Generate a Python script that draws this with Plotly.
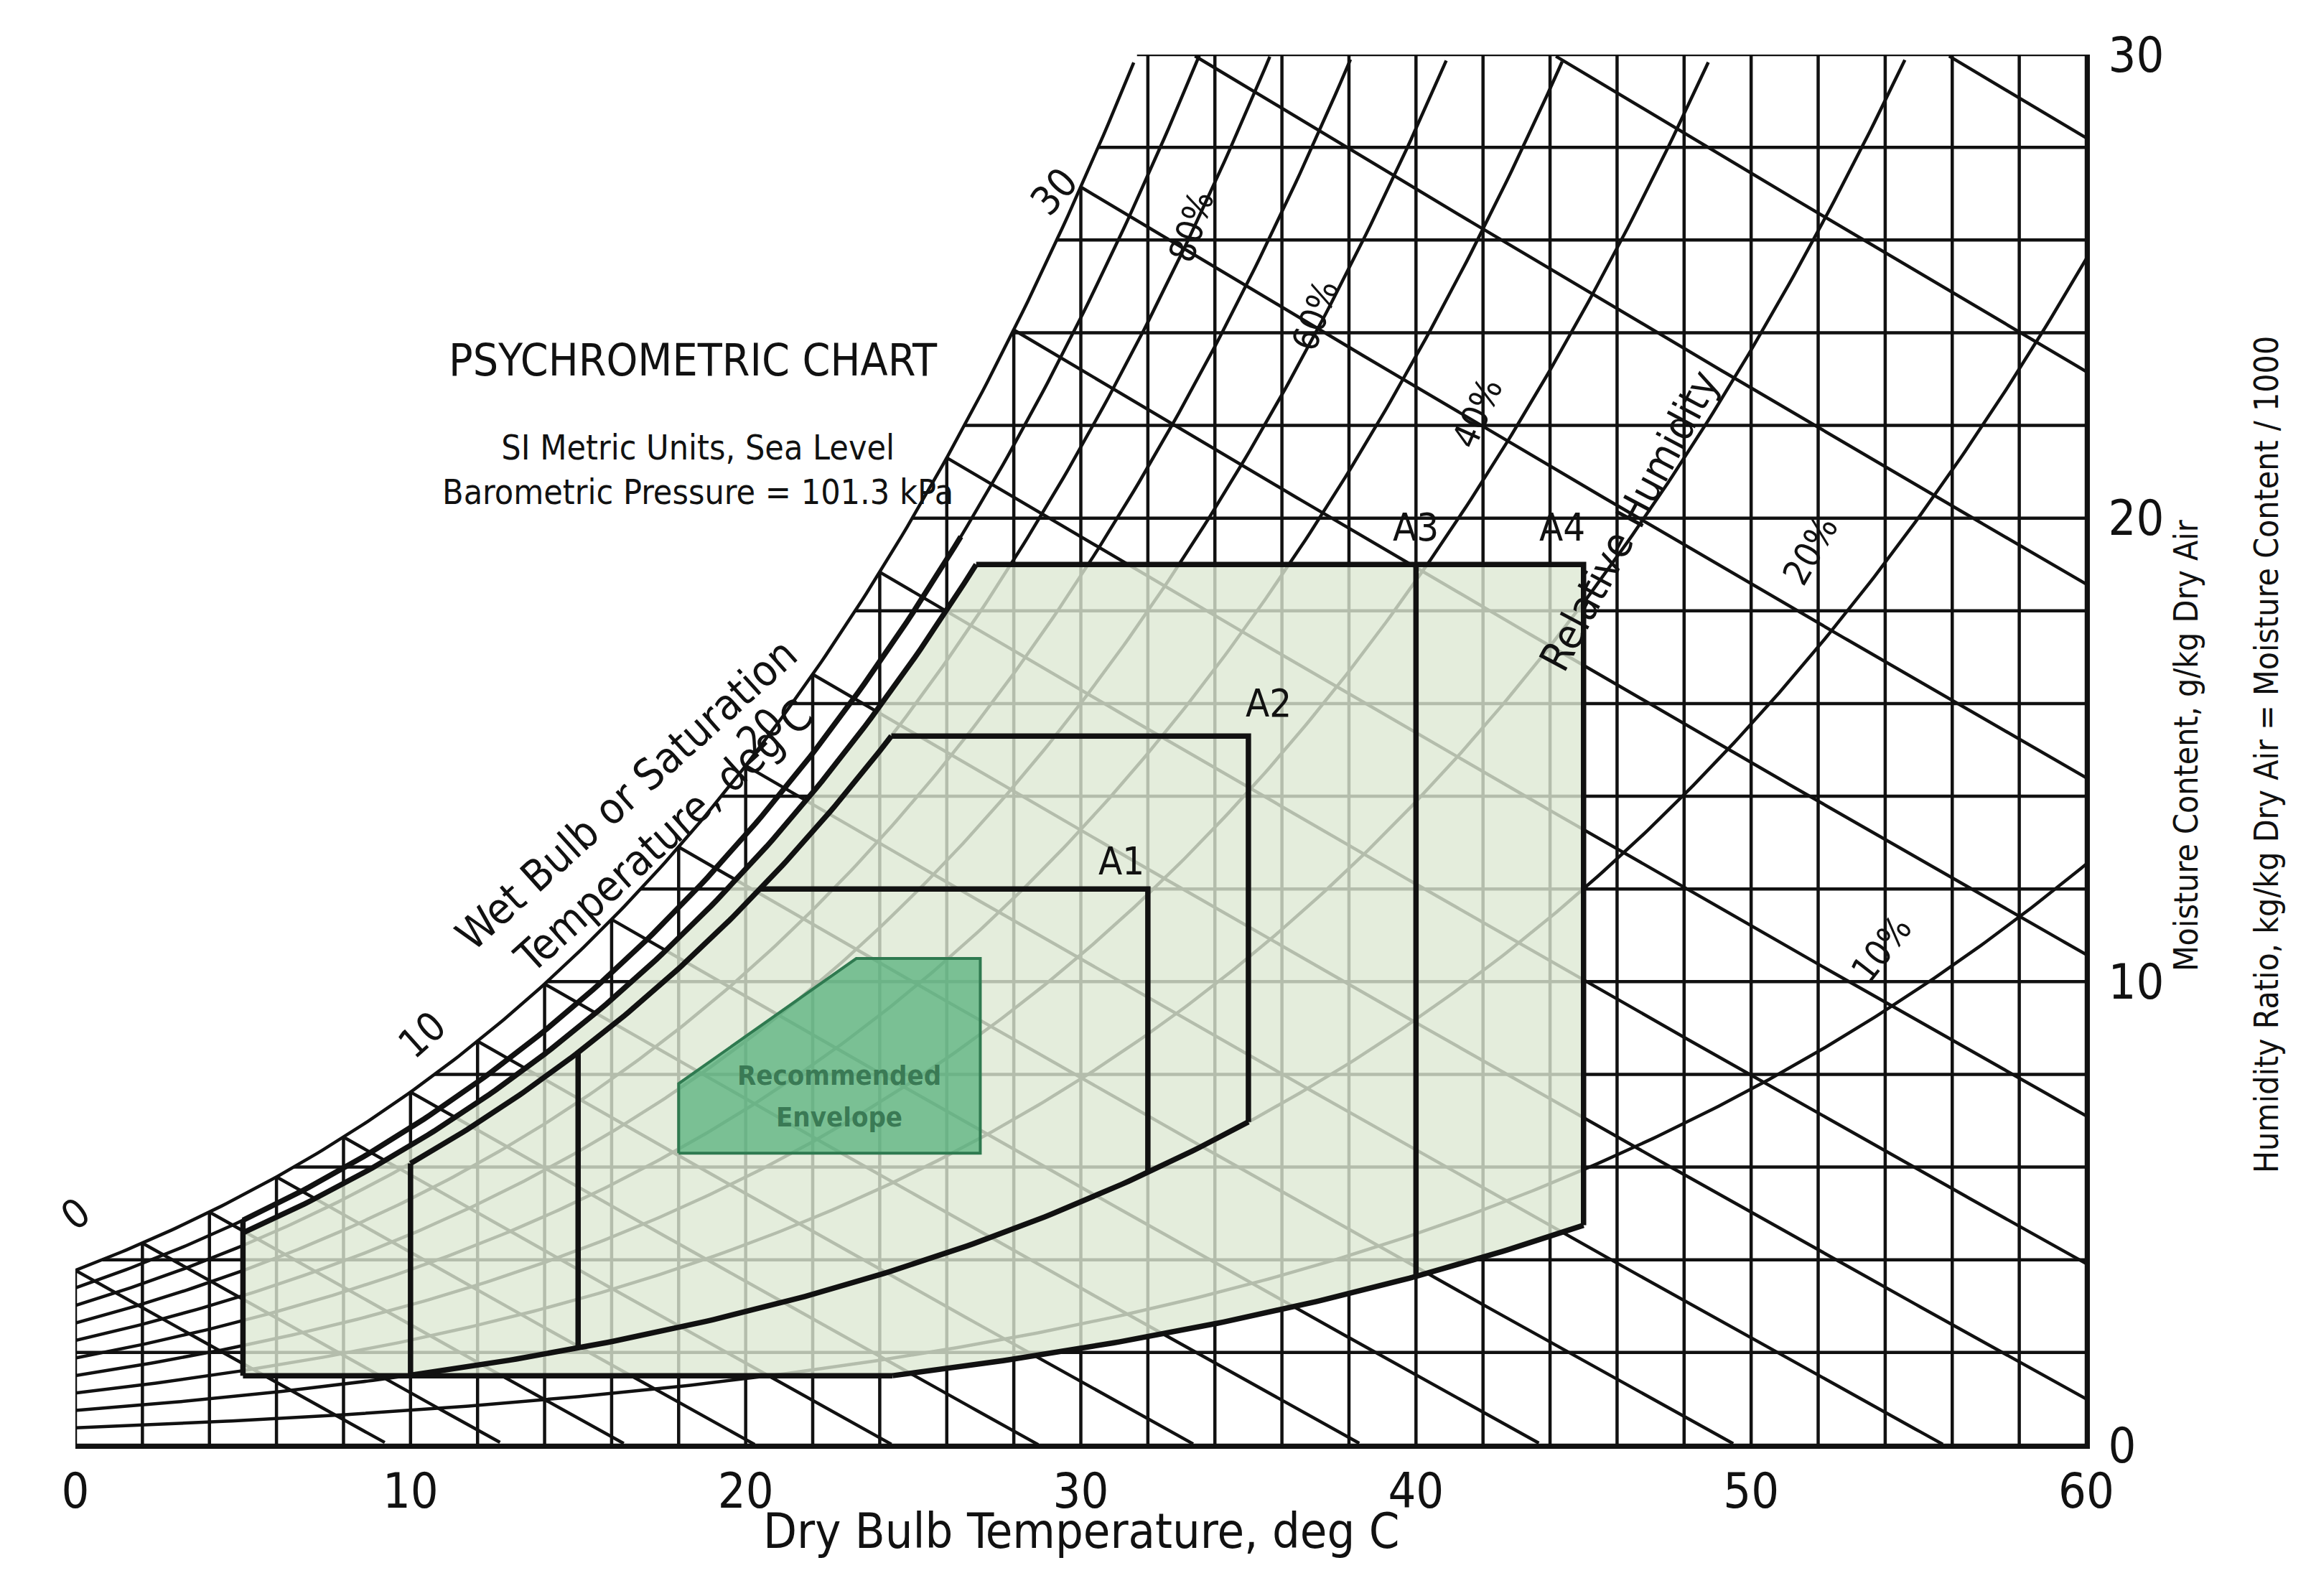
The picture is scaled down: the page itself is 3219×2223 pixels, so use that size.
import numpy as np
import plotly.graph_objects as go

# ---- chart data ----
P_KPA = 101.325
dry_bulb_grid = list(range(0, 61, 2))          # vertical grid, deg C
moisture_grid = list(range(0, 31, 2))          # horizontal grid, g/kg
rh_levels = [10, 20, 30, 40, 50, 60, 70, 80, 90]  # %
wet_bulb_levels = list(range(0, 50, 2))        # deg C
x_ticks = [0, 10, 20, 30, 40, 50, 60]
y_ticks = [0, 10, 20, 30]

# envelope definitions (ASHRAE classes)
A34_rh_high, A34_rh_low, A34_w_min = 85, 8, 1.5
A4_rh_high = 90
A3_t_max, A4_t_max, A34_t_min, A34_w_max = 40, 45, 5, 19.0
A12_rh_high, A12_rh_low = 80, 20
A1_t_min, A1_t_max, A1_w_max = 15, 32, 12.0
A2_t_min, A2_t_max, A2_w_max = 10, 35, 15.3
rec_T = [18, 18, 23.3, 27, 27, 18]
rec_W = [6.3, 7.8, 10.5, 10.5, 6.3, 6.3]

T_MAX, W_MAX = 60.0, 30.0

def psat(t):
    return 0.61094 * np.exp(17.625 * t / (t + 243.04))

def w_rh(t, rh):
    p = rh / 100.0 * psat(t)
    return 622.0 * p / (P_KPA - p)

def t_for_w(w, rh, lo=-10, hi=80):
    for _ in range(60):
        m = (lo + hi) / 2
        if w_rh(m, rh) < w: lo = m
        else: hi = m
    return (lo + hi) / 2

def curve(rh, t0, t1, n=120):
    t = np.linspace(t0, t1, n)
    return list(t), list(w_rh(t, rh))

BLACK = "#111111"
fig = go.Figure()

def add_lines(xs, ys, width=4.5, color=BLACK):
    fig.add_trace(go.Scatter(x=xs, y=ys, mode="lines", line=dict(color=color, width=width),
                             hoverinfo="skip", showlegend=False, connectgaps=False))

# grid
gx, gy = [], []
for t in dry_bulb_grid:
    gx += [t, t, None]; gy += [0, min(w_rh(t, 100), W_MAX), None]
for w in moisture_grid:
    gx += [t_for_w(w, 100) if w > w_rh(0, 100) else 0, T_MAX, None]; gy += [w, w, None]
add_lines(gx, gy)

# saturation + RH curves
rx, ry = [], []
for rh in rh_levels + [100]:
    t = np.linspace(0, T_MAX, 400)
    w = w_rh(t, rh)
    m = w <= W_MAX
    rx += list(t[m]) + [None]; ry += list(w[m]) + [None]
add_lines(rx, ry)

# wet bulb lines
wx, wy = [], []
for twb in wet_bulb_levels:
    ws = w_rh(twb, 100) / 1000
    t = np.linspace(twb, T_MAX, 300)
    w = ((2501 - 2.326 * twb) * ws - 1.006 * (t - twb)) / (2501 + 1.86 * t - 4.186 * twb) * 1000
    m = (w >= 0) & (w <= W_MAX)
    if m.sum() > 1:
        wx += list(t[m]) + [None]; wy += list(w[m]) + [None]
add_lines(wx, wy)

# A3/A4 light fill
t_hi = t_for_w(A34_w_max, A34_rh_high)
t_lo = t_for_w(A34_w_min, A34_rh_low)
cu_x, cu_y = curve(A34_rh_high, A34_t_min, t_hi)
cl_x, cl_y = curve(A34_rh_low, t_lo, A4_t_max)
px = [A34_t_min] + cu_x + [A4_t_max, A4_t_max] + cl_x[::-1] + [A34_t_min]
py = [A34_w_min] + cu_y + [A34_w_max, w_rh(A4_t_max, A34_rh_low)] + cl_y[::-1] + [A34_w_min]
fig.add_trace(go.Scatter(x=px, y=py, fill="toself", fillcolor="rgba(221,232,211,0.8)",
                         line=dict(width=0), mode="lines", hoverinfo="skip", showlegend=False))

TH = 7.5
# A3/A4 boundaries
add_lines(cu_x, cu_y, TH)
x90, y90 = curve(A4_rh_high, A34_t_min, t_for_w(19.6, A4_rh_high))
add_lines(x90, y90, TH)
add_lines([A34_t_min, A34_t_min], [A34_w_min, w_rh(A34_t_min, A4_rh_high)], TH)
add_lines([A34_t_min, t_lo], [A34_w_min, A34_w_min], TH)
add_lines(cl_x, cl_y, TH)
add_lines([t_hi, A4_t_max, A4_t_max], [A34_w_max, A34_w_max, w_rh(A4_t_max, A34_rh_low)], TH)
add_lines([A3_t_max, A3_t_max], [A34_w_max, w_rh(A3_t_max, A34_rh_low)], TH)

# A1/A2 boundaries
x80, y80 = curve(A12_rh_high, A2_t_min, t_for_w(A2_w_max, A12_rh_high))
add_lines(x80, y80, TH)
x20, y20 = curve(A12_rh_low, A2_t_min, A2_t_max)
add_lines(x20, y20, TH)
for tmin, tmax, wmax in [(A1_t_min, A1_t_max, A1_w_max), (A2_t_min, A2_t_max, A2_w_max)]:
    add_lines([tmin, tmin], [w_rh(tmin, A12_rh_low), w_rh(tmin, A12_rh_high)], TH)
    add_lines([t_for_w(wmax, A12_rh_high), tmax, tmax], [wmax, wmax, w_rh(tmax, A12_rh_low)], TH)

# Recommended envelope
fig.add_trace(go.Scatter(x=rec_T, y=rec_W, fill="toself", fillcolor="rgba(80,175,120,0.72)",
                         line=dict(color="#2f7a50", width=4), mode="lines", hoverinfo="skip",
                         showlegend=False))

FONT = "DejaVu Sans Condensed, DejaVu Sans, sans-serif"
def ann(x, y, text, size=60, angle=0, color=BLACK, **kw):
    # positions given in data units, placed through paper coordinates so they may sit outside the axes
    fig.add_annotation(x=x / T_MAX, y=y / W_MAX, xref="paper", yref="paper", text=text,
                       showarrow=False, textangle=angle,
                       font=dict(family=FONT, size=size, color=color), **kw)

ann(11.1, 24.0, "PSYCHROMETRIC CHART", 62)
ann(10.9, 22.0, "SI Metric Units, Sea Level<br>Barometric Pressure = 101.3 kPa", 48)
ann(11.0, 13.6, "Wet Bulb or Saturation<br>Temperature, deg C", 60, -42)
ann(-0.75, 4.4, "0", 56, -38)
ann(9.3, 8.1, "10", 56, -42)
ann(19.4, 15.4, "20", 56, -45)
ann(29.2, 27.8, "30", 56, -48)
ann(33.3, 27.2, "80%", 50, -72)
ann(37.0, 25.3, "60%", 50, -70)
ann(42.9, 23.2, "40%", 50, -66)
ann(49.4, 23.4, "Relative Humidity", 58, -62)
ann(52.9, 19.3, "20%", 50, -60)
ann(55.1, 10.7, "10%", 50, -52)
ann(31.2, 12.6, "A1", 54); ann(35.6, 16.0, "A2", 54)
ann(40.0, 19.8, "A3", 54); ann(45.1, 19.8, "A4", 54)
ann(22.8, 7.6, "<b>Recommended</b>", 38, color="#3a7a55")
ann(22.8, 6.7, "<b>Envelope</b>", 38, color="#3a7a55")
ann(30, -2.5, "Dry Bulb Temperature, deg C", 68)
ann(63.6, 15.1, "Moisture Content, g/kg Dry Air", 46, -90)
ann(66.0, 14.9, "Humidity Ratio, kg/kg Dry Air = Moisture Content / 1000", 46, -90)

fig.update_layout(
    width=3219, height=2223, paper_bgcolor="white", plot_bgcolor="white",
    margin=dict(l=97, r=321, t=68, b=218),
    xaxis=dict(range=[0, T_MAX], tickvals=x_ticks, showgrid=False, zeroline=False,
               showline=True, linecolor=BLACK, linewidth=5, ticks="",
               tickfont=dict(family=FONT, size=68, color=BLACK)),
    yaxis=dict(range=[0, W_MAX], tickvals=y_ticks, side="right", showgrid=False, zeroline=False,
               showline=True, linecolor=BLACK, linewidth=5, ticks="", ticklabelstandoff=12,
               tickfont=dict(family=FONT, size=68, color=BLACK)),
)
fig.write_html("out.html")
